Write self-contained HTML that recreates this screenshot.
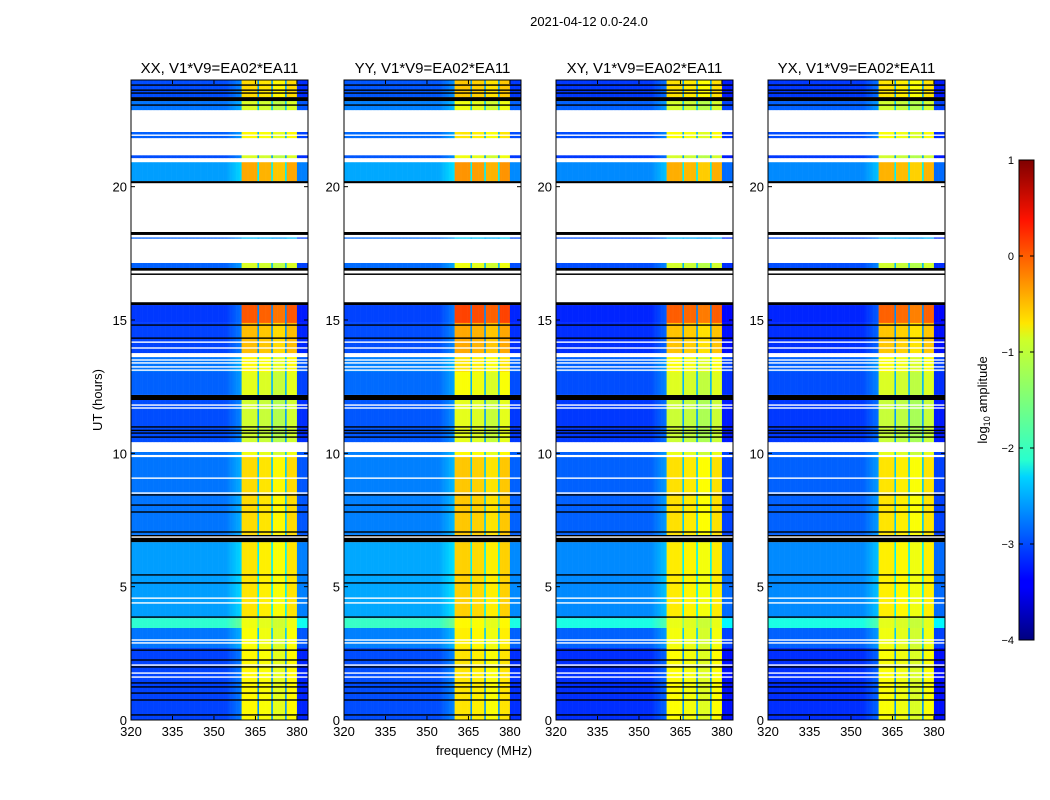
<!DOCTYPE html>
<html><head><meta charset="utf-8"><style>
body{margin:0;background:#fff;}
svg{display:block;font-family:"Liberation Sans",sans-serif;}
</style></head><body>
<svg id="fig" width="1050" height="800" viewBox="0 0 1050 800">
<defs>
<linearGradient id="jet" x1="0" y1="1" x2="0" y2="0">
<stop offset="0" stop-color="#00007f"/><stop offset="0.11" stop-color="#0000ff"/>
<stop offset="0.125" stop-color="#0000ff"/><stop offset="0.34" stop-color="#00d4ff"/>
<stop offset="0.375" stop-color="#29ffce"/><stop offset="0.5" stop-color="#7dff7a"/>
<stop offset="0.625" stop-color="#ceff29"/><stop offset="0.66" stop-color="#ffe600"/>
<stop offset="0.875" stop-color="#ff1300"/><stop offset="1" stop-color="#7f0000"/>
</linearGradient>
</defs>
<text x="589" y="26" font-size="13" text-anchor="middle">2021-04-12 0.0-24.0</text>
<text x="0" y="0" font-size="13" text-anchor="middle" transform="translate(102,400) rotate(-90)">UT (hours)</text>
<text x="484" y="755" font-size="13" text-anchor="middle">frequency (MHz)</text>
<g id="panels"></g>
<g id="cbar">
<rect x="1019" y="160" width="15" height="480" fill="url(#jet)" stroke="#000" stroke-width="1"/>
</g>
<text x="0" y="0" font-size="13" text-anchor="middle" transform="translate(987,400) rotate(-90)">log<tspan font-size="9" dy="3">10</tspan><tspan dy="-3"> amplitude</tspan></text>
</svg>
<script>
// ---- data ----
const panelTitles = ["XX, V1*V9=EA02*EA11","YY, V1*V9=EA02*EA11","XY, V1*V9=EA02*EA11","YX, V1*V9=EA02*EA11"];
const panelBgOffset = [0, 0.05, -0.1, -0.1];
const panelBandOffset = [0, 0.1, -0.03, -0.05];
const xTicks = [320,335,350,365,380];
const yTicks = [0,5,10,15,20];
const cbarTicks = [1,0,-1,-2,-3,-4];
// time segments: [startHour, endHour, kind, backgroundLevel, bandLevel]
const segStart = [0,2.7,3.45,3.82,6.67,6.94,9.86,9.94,10.05,10.42,12.0,12.19,13.05,13.61,13.76,14.89,15.56,15.67,16.69,16.75,16.85,16.95,17.14,18.05,18.1,18.19,18.3,20.13,20.21,20.92,21.07,21.18,21.82,22.05,22.87,23.21,23.36];
const segEnd   = [2.7,3.45,3.82,6.67,6.94,9.86,9.94,10.05,10.42,12.0,12.19,13.05,13.61,13.76,14.89,15.56,15.67,16.69,16.75,16.85,16.95,17.14,18.05,18.1,18.19,18.3,20.13,20.21,20.92,21.07,21.18,21.82,22.05,22.87,23.21,23.36,24];
const segKind  = ['d','d','d','d','k','d','w','d','w','d','k','d','d','w','d','d','k','w','k','w','k','d','w','d','w','k','w','k','d','w','d','w','d','w','d','k','d'];
const segBg    = [-3.05,-2.8,-1.9,-2.6,0,-2.8,0,-2.8,0,-3.0,0,-2.9,-2.8,0,-3.05,-3.1,0,0,0,0,0,-2.9,0,-2.9,0,0,0,0,-2.6,0,-3.0,0,-2.9,0,-2.8,0,-3.0];
const segBand  = [-0.9,-0.95,-1.0,-0.8,0,-0.75,0,-1.0,0,-1.15,0,-1.05,-0.9,0,-0.6,-0.1,0,0,0,0,0,-1.1,0,-2.5,0,0,0,0,-0.5,0,-1.1,0,-0.9,0,-1.1,0,-0.75];
const blackLines = [0.19,0.75,1.01,1.24,1.39,1.99,2.25,2.62,3.86,5.14,5.44,7.05,7.8,8.06,8.44,10.61,10.76,10.86,10.99,14.32,14.81,23.06,23.51,23.62,23.81];
const whiteLines = [1.61,1.76,2.06,2.89,3.0,4.39,4.57,6.86,8.51,9.07,9.9,11.7,11.81,13.12,13.24,13.39,13.5,13.95,14.17,21.93];
// band structure (MHz)
const bandLo = 360, bandHi = 380;
const bandGaps = [366, 371, 376];
const bandShape = [0.05, 0.0, -0.1, 0.05];

// ---- helpers ----
const NS = "http://www.w3.org/2000/svg";
const panelLeft = [131,344,556,768];
const PW = 177, PT = 80, PB = 720;
function xs(p,f){return panelLeft[p] + (f-320)*PW/64;}
function ys(h){return PB - h*(PB-PT)/24;}
function clamp(v){return Math.max(0,Math.min(1,v));}
function jet(v){
  const t = clamp((v+4)/5);
  const r = clamp(1.5-Math.abs(4*t-3)), g = clamp(1.5-Math.abs(4*t-2)), b = clamp(1.5-Math.abs(4*t-1));
  return `rgb(${Math.round(r*255)},${Math.round(g*255)},${Math.round(b*255)})`;
}
function mk(tag, attrs, parent){
  const e = document.createElementNS(NS, tag);
  for (const k in attrs) e.setAttribute(k, attrs[k]);
  parent.appendChild(e); return e;
}
function colLevel(f, bg, band){
  if (f >= bandLo && f < bandHi){
    let sub = 0; for (const gf of bandGaps) if (f >= gf) sub++;
    return band + bandShape[sub];
  }
  if (f >= bandHi) return bg - 0.15;
  return bg + (f > 354 ? (f-354)*0.05 : 0);
}
const root = document.getElementById('panels');
const chW = 0.5;
for (let p=0;p<4;p++){
  const g = mk('g',{},root);
  
  
  const L = panelLeft[p];
  for (let s=0;s<segStart.length;s++){
    const y0 = ys(segEnd[s]), y1 = ys(segStart[s]);
    if (segKind[s] !== 'd'){
      const r = mk('rect',{x:L,y:y0,width:PW,height:y1-y0,fill:segKind[s]==='k'?'#000':'#fff'},g);
      
      
      continue;
    }
    for (let f=320; f<384; f+=chW){
      const lv = colLevel(f, segBg[s]+panelBgOffset[p], segBand[s]+panelBandOffset[p]);
      const r = mk('rect',{x:xs(p,f),y:y0,width:PW*chW/64+0.3,height:y1-y0,fill:jet(lv)},g);
      
      
    }
    for (const gf of bandGaps){
      const r = mk('rect',{x:xs(p,gf)-0.8,y:y0,width:1.6,height:y1-y0,fill:jet(segBg[s]+0.4)},g);
      
      
    }
  }
  for (const h of blackLines){
    const l = mk('rect',{x:L,y:ys(h)-0.7,width:PW,height:1.4,fill:'#000'},g);
    
    
  }
  for (const h of whiteLines){
    const l = mk('rect',{x:L,y:ys(h)-0.7,width:PW,height:1.4,fill:'#fff'},g);
    
    
  }
  const fr = mk('rect',{x:L,y:PT,width:PW,height:PB-PT,fill:'none',stroke:'#000','stroke-width':1},g);
  
  
  const t = mk('text',{x:L+PW/2,y:73,'font-size':15,'text-anchor':'middle'},g);
  t.textContent = panelTitles[p];
  
  
  for (const v of xTicks){
    const x = xs(p,v);
    mk('line',{x1:x,x2:x,y1:PB,y2:PB-4,stroke:'#000'},g);
    mk('line',{x1:x,x2:x,y1:PT,y2:PT+4,stroke:'#000'},g);
    const tl = mk('text',{x:x,y:PB+16,'font-size':13,'text-anchor':'middle'},g);
    tl.textContent = v;
    
    
  }
  for (const v of yTicks){
    const y = ys(v);
    mk('line',{x1:L,x2:L+4,y1:y,y2:y,stroke:'#000'},g);
    mk('line',{x1:L+PW,x2:L+PW-4,y1:y,y2:y,stroke:'#000'},g);
    const tl = mk('text',{x:L-4,y:y+5,'font-size':13,'text-anchor':'end'},g);
    tl.textContent = v;
    
    
  }
}
const cb = document.getElementById('cbar');
cbarTicks.forEach(v=>{
  const y = 160 + (1-v)*96;
  mk('line',{x1:1019,x2:1023,y1:y,y2:y,stroke:'#000'},cb);
  mk('line',{x1:1034,x2:1030,y1:y,y2:y,stroke:'#000'},cb);
  const tl = mk('text',{x:1014,y:y+4,'font-size':11,'text-anchor':'end'},cb);
  tl.textContent = v<0 ? '\u2212'+Math.abs(v) : String(v);
  
  
});
</script>
</body></html>
